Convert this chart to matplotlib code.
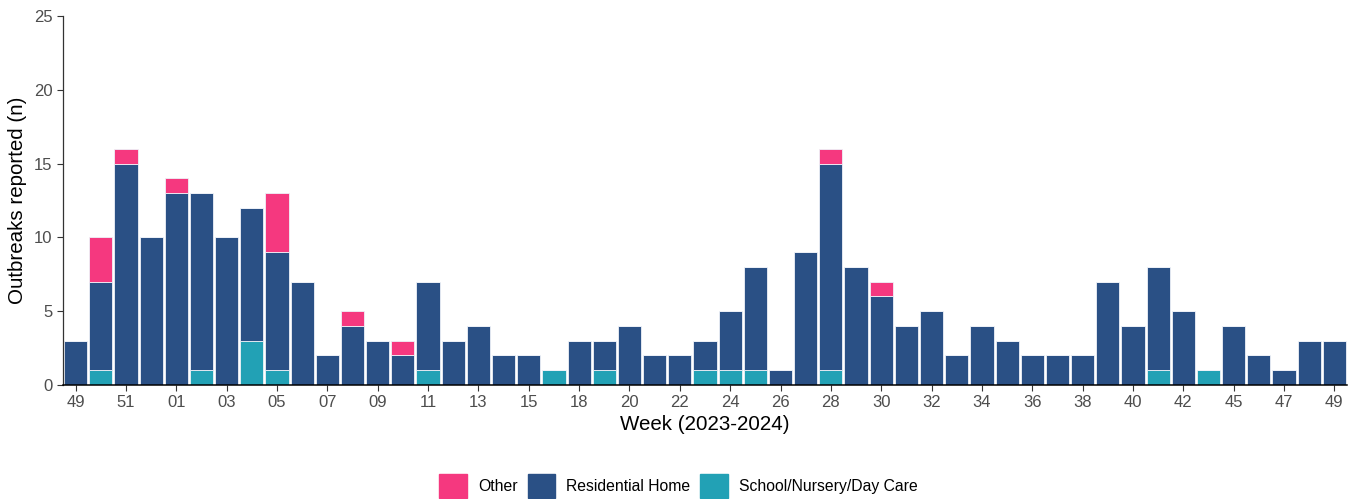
import matplotlib.pyplot as plt
import numpy as np

# weeks 2023-49 .. 2024-49 (17 and 44 not reported)
weeks = ["49", "50", "51", "52"] + ["%02d" % w for w in range(1, 17)] + \
        [str(w) for w in range(18, 44)] + [str(w) for w in range(45, 50)]

school = [0, 1, 0, 0, 0, 1, 0, 3, 1, 0, 0, 0, 0, 0, 1, 0, 0, 0, 0, 1,
          0, 1, 0, 0, 0, 1, 1, 1, 0, 0, 1, 0, 0, 0, 0, 0, 0, 0, 0, 0,
          0, 0, 0, 1, 0, 1, 0, 0, 0, 0, 0]
residential = [3, 6, 15, 10, 13, 12, 10, 9, 8, 7, 2, 4, 3, 2, 6, 3, 4, 2, 2, 0,
               3, 2, 4, 2, 2, 2, 4, 7, 1, 9, 14, 8, 6, 4, 5, 2, 4, 3, 2, 2,
               2, 7, 4, 7, 5, 0, 4, 2, 1, 3, 3]
other = [0, 3, 1, 0, 1, 0, 0, 0, 4, 0, 0, 1, 0, 1, 0, 0, 0, 0, 0, 0,
         0, 0, 0, 0, 0, 0, 0, 0, 0, 0, 1, 0, 1, 0, 0, 0, 0, 0, 0, 0,
         0, 0, 0, 0, 0, 0, 0, 0, 0, 0, 0]

plt.rcParams['font.family'] = ['Liberation Sans', 'DejaVu Sans']

c_other = "#F5387F"
c_res = "#2A5085"
c_school = "#22A1B5"

fig = plt.figure(figsize=(13.57, 4.99), dpi=100)
ax = fig.add_axes([63 / 1357, 1 - 385 / 499, 1284 / 1357, 369 / 499])

x = np.arange(len(weeks))
school = np.array(school)
residential = np.array(residential)
other = np.array(other)
bw = 0.92
ax.bar(x, school, width=bw, color=c_school, edgecolor="#EEF2F8", linewidth=0.6)
ax.bar(x, residential, bottom=school, width=bw, color=c_res, edgecolor="#EEF2F8", linewidth=0.6)
ax.bar(x, other, bottom=school + residential, width=bw, color=c_other, edgecolor="#EEF2F8", linewidth=0.6)

ax.set_xlim(-0.5, len(weeks) - 0.5)
ax.set_ylim(0, 25)
ax.set_yticks([0, 5, 10, 15, 20, 25])
ax.set_xticks(x[::2])
ax.set_xticklabels(weeks[::2])

for s in ["top", "right"]:
    ax.spines[s].set_visible(False)
ax.spines["bottom"].set_color("black")
ax.spines["left"].set_color("#333333")
ax.spines["bottom"].set_linewidth(1.1)
ax.spines["left"].set_linewidth(0.9)
ax.tick_params(axis="both", colors="#333333", labelcolor="#4D4D4D", labelsize=12, length=4, width=0.8)

ax.set_xlabel("Week (2023-2024)", fontsize=14.8, color="black", labelpad=3)
ax.set_ylabel("Outbreaks reported (n)", fontsize=14.8, color="black", labelpad=5)

handles = [plt.Rectangle((0, 0), 1, 1, color=c) for c in (c_other, c_res, c_school)]
fig.legend(handles, ["Other", "Residential Home", "School/Nursery/Day Care"],
           loc="center", bbox_to_anchor=(0.5, 1 - 486 / 499), ncol=3, frameon=False,
           fontsize=11.3, handlelength=1.75, handleheight=2.0, handletextpad=0.7,
           columnspacing=0.65)

fig.savefig("out.png", dpi=100)
